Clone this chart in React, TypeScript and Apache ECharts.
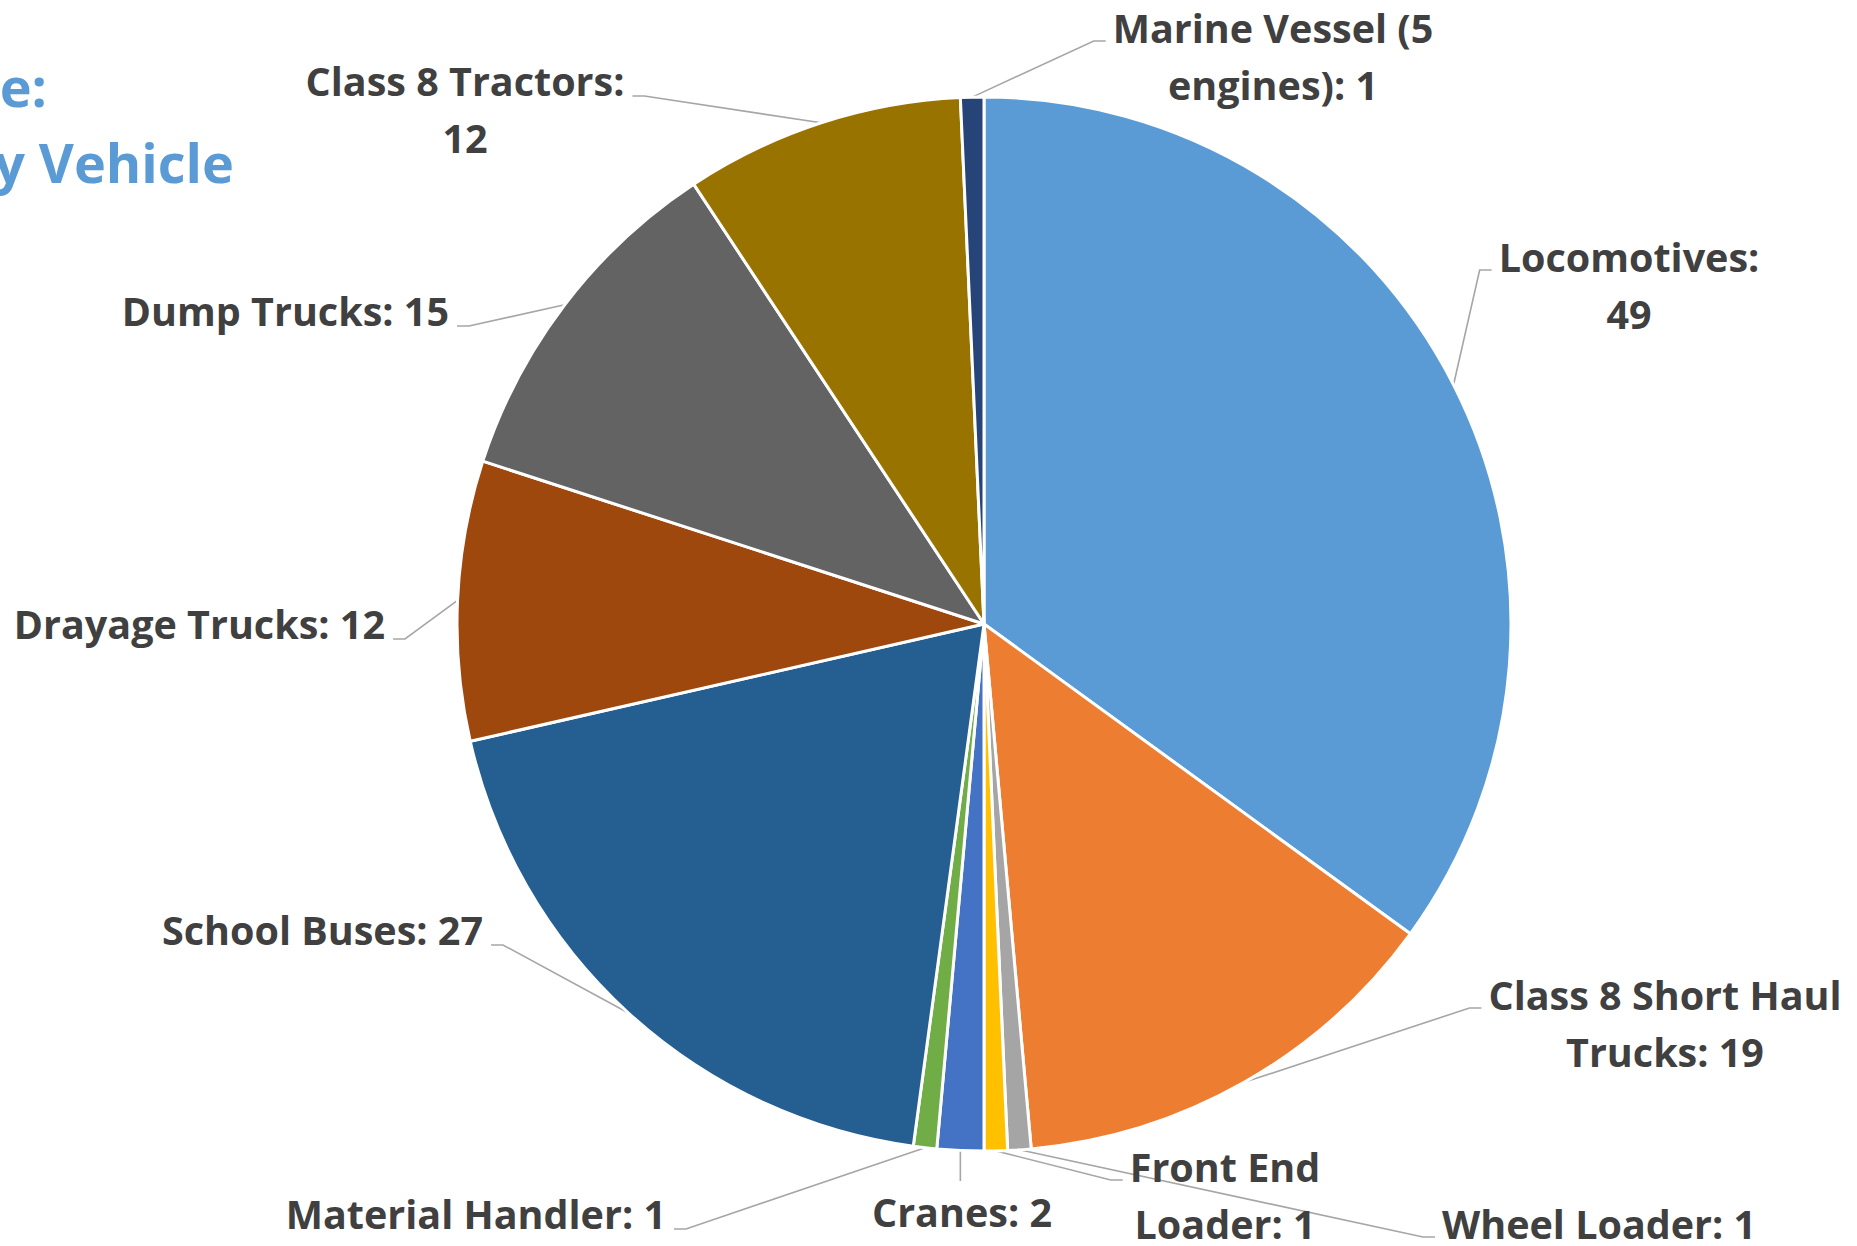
import React, { useEffect, useRef } from "react";
import * as echarts from "echarts";

const categories = [
  "Locomotives",
  "Class 8 Short Haul Trucks",
  "Wheel Loader",
  "Front End Loader",
  "Cranes",
  "Material Handler",
  "School Buses",
  "Drayage Trucks",
  "Dump Trucks",
  "Class 8 Tractors",
  "Marine Vessel (5 engines)",
];
const values = [49, 19, 1, 1, 2, 1, 27, 12, 15, 12, 1];
const colors = [
  "#5B9BD5",
  "#ED7D31",
  "#A5A5A5",
  "#FFC000",
  "#4472C4",
  "#70AD47",
  "#255E91",
  "#9E480E",
  "#636363",
  "#997300",
  "#264478",
];
const titleLines = ["e:", "y Vehicle"];
// where each label wraps onto a second line ("" = single line)
const labelBreakAfter = [
  "Locomotives:",
  "Class 8 Short Haul",
  "",
  "Front End",
  "",
  "",
  "",
  "",
  "",
  "Class 8 Tractors:",
  "Marine Vessel (5",
];

// label placement (layout only): anchor x, top y, text alignment, side the leader line attaches
const labelPlacement = [
  { x: 1629, y: 228, align: "center", side: "left" },
  { x: 1665, y: 966, align: "center", side: "left" },
  { x: 1442, y: 1195, align: "left", side: "left" },
  { x: 1225, y: 1138, align: "center", side: "left" },
  { x: 962, y: 1183, align: "center", side: "top" },
  { x: 666, y: 1185, align: "right", side: "right" },
  { x: 483, y: 901, align: "right", side: "right" },
  { x: 385, y: 595, align: "right", side: "right" },
  { x: 449, y: 282, align: "right", side: "right" },
  { x: 465, y: 52, align: "center", side: "right" },
  { x: 1273, y: -1, align: "center", side: "left" },
];

const FONT = "'Open Sans', 'Noto Sans', sans-serif";

export default function App() {
  const ref = useRef<HTMLDivElement>(null);

  useEffect(() => {
    document.body.style.margin = "0";
    if (!ref.current) return;
    const chart = echarts.init(ref.current, null, { renderer: "svg" });

    const data = categories.map((name, i) => ({
      name,
      value: values[i],
      itemStyle: { color: colors[i] },
    }));

    chart.setOption({
      animation: false,
      backgroundColor: "#ffffff",
      graphic: [
        {
          type: "text",
          x: 47,
          y: 86,
          style: {
            text: titleLines[0],
            align: "right",
            verticalAlign: "middle",
            fill: "#5B9BD5",
            font: `bold 54px ${FONT}`,
          },
        },
        {
          type: "text",
          x: 234,
          y: 162,
          style: {
            text: titleLines[1],
            align: "right",
            verticalAlign: "middle",
            fill: "#5B9BD5",
            font: `bold 54px ${FONT}`,
          },
        },
      ],
      series: [
        {
          type: "pie",
          center: [984, 624],
          radius: 527,
          startAngle: 90,
          clockwise: true,
          avoidLabelOverlap: false,
          data,
          itemStyle: { borderColor: "#ffffff", borderWidth: 3 },
          emphasis: { disabled: true },
          label: {
            show: true,
            position: "outside",
            color: "#404040",
            fontFamily: FONT,
            fontWeight: "bold",
            fontSize: 39.5,
            lineHeight: 57,
            formatter: (p: any) => {
              const txt = `${p.name}: ${p.value}`;
              const brk = labelBreakAfter[p.dataIndex];
              if (brk && txt.startsWith(brk + " ")) {
                return brk + "\n" + txt.slice(brk.length + 1);
              }
              return txt;
            },
          },
          labelLine: {
            show: true,
            length: 20,
            length2: 20,
            lineStyle: { color: "#A6A6A6", width: 1.6 },
          },
          labelLayout: (p: any) => {
            const s = labelPlacement[p.dataIndex];
            const w = p.labelRect.width;
            const left =
              s.align === "center" ? s.x - w / 2 : s.align === "right" ? s.x - w : s.x;
            const p0 = p.labelLinePoints ? p.labelLinePoints[0] : [s.x, s.y];
            let pts;
            if (s.side === "left") {
              const ax = left - 7;
              const ay = s.y + 42;
              pts = [p0, [ax - 12, ay], [ax, ay]];
            } else if (s.side === "right") {
              const ax = left + w + 8;
              const ay = s.y + 44;
              pts = [p0, [ax + 12, ay], [ax, ay]];
            } else {
              const ay = s.y - 2;
              pts = [p0, [p0[0], ay], [p0[0], ay]];
            }
            return {
              x: s.x,
              y: s.y,
              align: s.align,
              verticalAlign: "top",
              labelLinePoints: pts,
            };
          },
        },
      ],
    });

    return () => chart.dispose();
  }, []);

  return (
    <div
      ref={ref}
      style={{ position: "absolute", left: 0, top: 0, width: 1857, height: 1246 }}
    />
  );
}
